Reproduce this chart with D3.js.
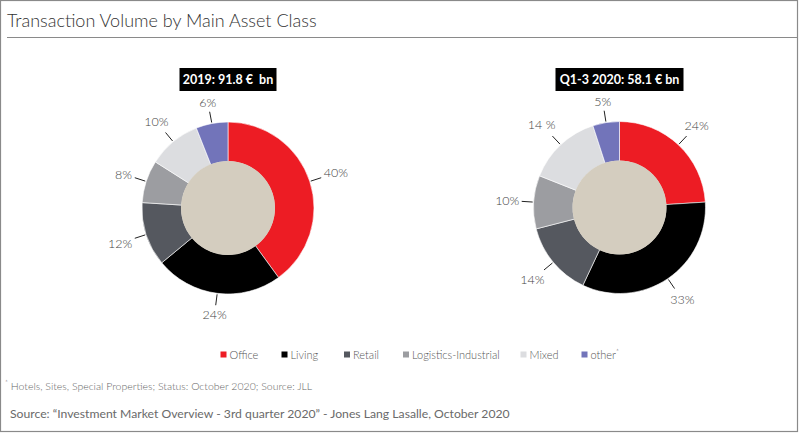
<!DOCTYPE html>
<html>
<head>
<meta charset="utf-8">
<script src="https://cdn.jsdelivr.net/npm/d3@7"></script>
<style>
  html, body { margin: 0; padding: 0; background: #fff; }
  svg { display: block; }
  text { font-family: Lato, "Open Sans", sans-serif; }
</style>
</head>
<body>
<div id="chart"></div>
<script>
// ── Data ─────────────────────────────────────────────────────────────────────
const categories = ["Office", "Living", "Retail", "Logistics-Industrial", "Mixed", "other"];
const colors     = ["#ed1c24", "#000000", "#55585f", "#9c9da1", "#dcdde0", "#7274ba"];
const values2019 = [40, 24, 12, 8, 10, 6];
const labels2019 = ["40%", "24%", "12%", "8%", "10%", "6%"];
const values2020 = [24, 33, 14, 10, 14, 5];
const labels2020 = ["24%", "33%", "14%", "10%", "14 %", "5%"];
const titles     = ["2019: 91.8 €\u00A0 bn", "Q1-3 2020: 58.1 € bn"];

(function () {
  "use strict";

  const W = 800, H = 433;
  const svg = d3.select("#chart").append("svg")
    .attr("width", W).attr("height", H);

  // frame + header
  svg.append("rect")
    .attr("x", 0.5).attr("y", 0.5).attr("width", 797).attr("height", 431)
    .attr("fill", "#fff").attr("stroke", "#8a8a8a").attr("stroke-width", 1.2);

  svg.append("text")
    .attr("x", 7).attr("y", 27)
    .attr("font-size", 18).attr("font-weight", 300)
    .attr("fill", "#333")
    .text("Transaction Volume by Main Asset Class");

  svg.append("line")
    .attr("x1", 7).attr("x2", 797).attr("y1", 37.5).attr("y2", 37.5)
    .attr("stroke", "#8a8a8a").attr("stroke-width", 1.2);

  // ── Donuts ────────────────────────────────────────────────────────────────
  const R_OUT = 86, R_IN = 46.5;
  const pie = d3.pie().sort(null).value(d => d.v);
  const arc = d3.arc().innerRadius(R_IN).outerRadius(R_OUT);

  function donut(cx, cy, values, labels, title, boxW) {
    const g = svg.append("g").attr("transform", `translate(${cx},${cy})`);
    const data = values.map((v, i) => ({ v: v, label: labels[i], color: colors[i] }));
    const arcs = pie(data);

    g.selectAll("path.slice").data(arcs).enter().append("path")
      .attr("class", "slice")
      .attr("d", arc)
      .attr("fill", d => d.data.color)
      .attr("stroke", "#fff").attr("stroke-width", 0.6);

    g.append("circle").attr("r", R_IN + 0.5).attr("fill", "#d4cdbf");

    arcs.forEach(function (d) {
      const a = (d.startAngle + d.endAngle) / 2;
      const sx = Math.sin(a), sy = -Math.cos(a);
      const r1 = R_OUT + 1, r2 = R_OUT + 12;
      g.append("line")
        .attr("x1", sx * r1).attr("y1", sy * r1)
        .attr("x2", sx * r2).attr("y2", sy * r2)
        .attr("stroke", "#222").attr("stroke-width", 1);

      const t = g.append("text")
        .attr("font-size", 12.5).attr("font-weight", 300)
        .attr("fill", "#444")
        .attr("text-anchor", "middle")
        .attr("dominant-baseline", "central")
        .text(d.data.label);
      const halfW = t.node().getComputedTextLength() / 2;
      const off = halfW * Math.abs(sx) + 6 * Math.abs(sy) + 2;
      t.attr("x", sx * (r2 + off)).attr("y", sy * (r2 + off));
    });

    // title box
    const bx = svg.append("g").attr("transform", `translate(${cx},79.5)`);
    bx.append("rect")
      .attr("x", -boxW / 2).attr("y", -11.5).attr("width", boxW).attr("height", 23)
      .attr("fill", "#000");
    bx.append("text")
      .attr("text-anchor", "middle").attr("dominant-baseline", "central")
      .attr("font-size", 12.5).attr("font-weight", 700)
      .attr("fill", "#fff")
      .text(title);
  }

  donut(228, 208, values2019, labels2019, titles[0], 97);
  donut(619.5, 207.5, values2020, labels2020, titles[1], 128);

  // ── Legend ────────────────────────────────────────────────────────────────
  const legendX = [220.5, 281.5, 344, 403, 520.5, 581.5];
  const lg = svg.append("g");
  categories.forEach(function (c, i) {
    const it = lg.append("g").attr("transform", `translate(${legendX[i]},354.5)`);
    it.append("rect").attr("x", 0).attr("y", -3).attr("width", 6).attr("height", 6)
      .attr("fill", colors[i]);
    const t = it.append("text")
      .attr("x", 9).attr("dominant-baseline", "central")
      .attr("font-size", 11).attr("font-weight", 300).attr("fill", "#555")
      .text(c);
    if (i === categories.length - 1) {
      t.append("tspan").attr("font-size", 7).attr("dy", -3).text("*");
    }
  });

  // ── Footnote + source ─────────────────────────────────────────────────────
  const fn = svg.append("text")
    .attr("x", 5).attr("y", 386).attr("dominant-baseline", "central")
    .attr("font-size", 10.5).attr("font-weight", 300).attr("fill", "#666");
  fn.append("tspan").attr("font-size", 7).attr("dy", -3).text("*");
  fn.append("tspan").attr("dy", 3).text(" Hotels, Sites, Special Properties; Status: October 2020; Source: JLL");

  svg.append("text")
    .attr("x", 10).attr("y", 413).attr("dominant-baseline", "central")
    .attr("font-size", 12.2).attr("font-weight", 400).attr("fill", "#6a6a6a")
    .text("Source: \u201CInvestment Market Overview - 3rd quarter 2020\u201D - Jones Lang Lasalle, October 2020");
})();
</script>
</body>
</html>
